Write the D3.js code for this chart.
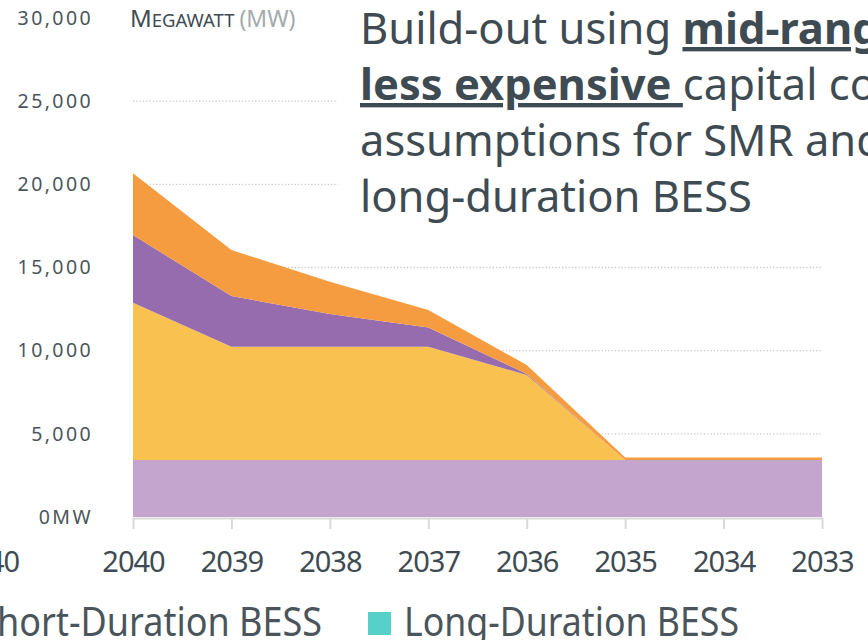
<!DOCTYPE html>
<html>
<head>
<meta charset="utf-8">
<script src="https://cdn.jsdelivr.net/npm/d3@7"></script>
<style>
  body { margin: 0; background: #fff; overflow: hidden; }
  svg text { font-family: "Noto Sans", sans-serif; }
</style>
</head>
<body>
<script>
// data (MW, stacked from the bottom)
var years = ["2040", "2039", "2038", "2037", "2036", "2035", "2034", "2033"];
var seriesKeys = ["baseMW", "yellowMW", "purpleMW", "orangeMW"];
var baseMW   = [3430, 3430, 3430, 3430, 3430, 3430, 3430, 3430];
var yellowMW = [9450, 6810, 6810, 6810, 5110, 0, 0, 0];
var purpleMW = [4070, 3040, 1960, 1160, 60, 0, 0, 0];
var orangeMW = [3710, 2770, 1940, 1040, 540, 150, 150, 150];
var yTicks = [0, 5000, 10000, 15000, 20000, 25000, 30000];
var gridTicks = [5000, 10000, 15000, 20000, 25000];
var titleLines = [
    [{t: "Build-out using ", b: false}, {t: "mid-range", b: true}],
    [{t: "less expensive ", b: true}, {t: "capital cost", b: false}],
    [{t: "assumptions for SMR and", b: false}],
    [{t: "long-duration BESS", b: false}]
];

var colors = {
    baseMW: "#c4a5cd",
    yellowMW: "#f9c14f",
    purpleMW: "#976cae",
    orangeMW: "#f59c41"
};

var width = 868, height = 640;
var textColor = "#3e4b52";

var rows = years.map(function (y, i) {
    return {year: y, baseMW: baseMW[i], yellowMW: yellowMW[i],
        purpleMW: purpleMW[i], orangeMW: orangeMW[i]};
});

var svg = d3.select("body").append("svg")
    .attr("width", width)
    .attr("height", height);

var x = d3.scalePoint().domain(years).range([133, 822]);
var y = d3.scaleLinear().domain([0, 30000]).range([517, 18]);

// dotted grid lines
svg.append("g").attr("class", "grid")
    .selectAll("line").data(gridTicks)
    .enter().append("line")
    .attr("x1", x.range()[0])
    .attr("x2", x.range()[1])
    .attr("y1", function (d) { return y(d); })
    .attr("y2", function (d) { return y(d); })
    .style("stroke", "#c9c9c9")
    .style("stroke-width", 1.3)
    .style("stroke-dasharray", "1.3,2");

// title sits on a white box that hides the grid
svg.append("rect")
    .attr("x", 338).attr("y", 0)
    .attr("width", width - 338).attr("height", 240)
    .style("fill", "#fff");

var title = svg.append("text")
    .attr("x", 360)
    .style("font-size", "43.5px")
    .style("fill", textColor);

titleLines.forEach(function (line, i) {
    line.forEach(function (part, j) {
        var ts = title.append("tspan").text(part.t);
        if (j === 0) ts.attr("x", 360).attr("y", 44 + i * 56);
        if (part.b) ts.style("font-weight", "bold").style("text-decoration", "underline");
    });
});

// stacked areas
var stack = d3.stack().keys(seriesKeys);
var area = d3.area()
    .x(function (d) { return x(d.data.year); })
    .y0(function (d) { return y(d[0]); })
    .y1(function (d) { return y(d[1]); });

svg.append("g").attr("class", "areas")
    .selectAll("path").data(stack(rows))
    .enter().append("path")
    .attr("d", area)
    .style("fill", function (d) { return colors[d.key]; });

// x axis
var xAxis = d3.axisBottom(x).tickSize(11).tickSizeOuter(0).tickPadding(22);
var xg = svg.append("g")
    .attr("transform", "translate(0,518)")
    .call(xAxis);
xg.select(".domain").style("stroke", "#d9d9d9").style("stroke-width", 2);
xg.selectAll(".tick line").style("stroke", "#d9d9d9").style("stroke-width", 2);
xg.selectAll(".tick text")
    .style("font-size", "29px")
    .style("letter-spacing", "-1px")
    .style("font-family", "'Noto Sans', sans-serif")
    .style("fill", textColor);

// cut-off label from the neighbouring chart
svg.append("text")
    .attr("x", -12).attr("y", 572)
    .attr("text-anchor", "middle")
    .style("font-size", "29px")
    .style("letter-spacing", "-1px")
    .style("fill", textColor)
    .text("2040");

// y axis labels
var yAxis = d3.axisLeft(y).tickValues(yTicks).tickSize(0).tickPadding(0)
    .tickFormat(function (d) { return d === 0 ? "0MW" : d3.format(",")(d); });
var yg = svg.append("g")
    .attr("transform", "translate(93,0)")
    .call(yAxis);
yg.select(".domain").remove();
yg.selectAll(".tick text")
    .style("font-size", "19.5px")
    .style("letter-spacing", "2.4px")
    .style("font-family", "'Noto Sans', sans-serif")
    .style("fill", "#4a555b");

// unit label
var unit = svg.append("text")
    .attr("x", 130).attr("y", 27)
    .style("fill", textColor);
unit.append("tspan").style("font-size", "24px").text("M");
unit.append("tspan").style("font-size", "18.5px").text("EGAWATT ");
unit.append("tspan").style("font-size", "23px").style("fill", "#a4aaad").text("(MW)");

// legend, partly outside the frame
svg.append("g")
    .attr("transform", "scale(0.9,1)")
    .append("text")
    .attr("x", 322 / 0.9).attr("y", 636)
    .attr("text-anchor", "end")
    .style("font-size", "40px")
    .style("fill", "#4a555b")
    .text("Short-Duration BESS");

svg.append("rect")
    .attr("x", 368).attr("y", 612)
    .attr("width", 23).attr("height", 23)
    .style("fill", "#56d0c8");

svg.append("text")
    .attr("x", 404).attr("y", 636)
    .attr("textLength", 335)
    .attr("lengthAdjust", "spacingAndGlyphs")
    .style("font-size", "40px")
    .style("fill", "#4a555b")
    .text("Long-Duration BESS");
</script>
</body>
</html>
